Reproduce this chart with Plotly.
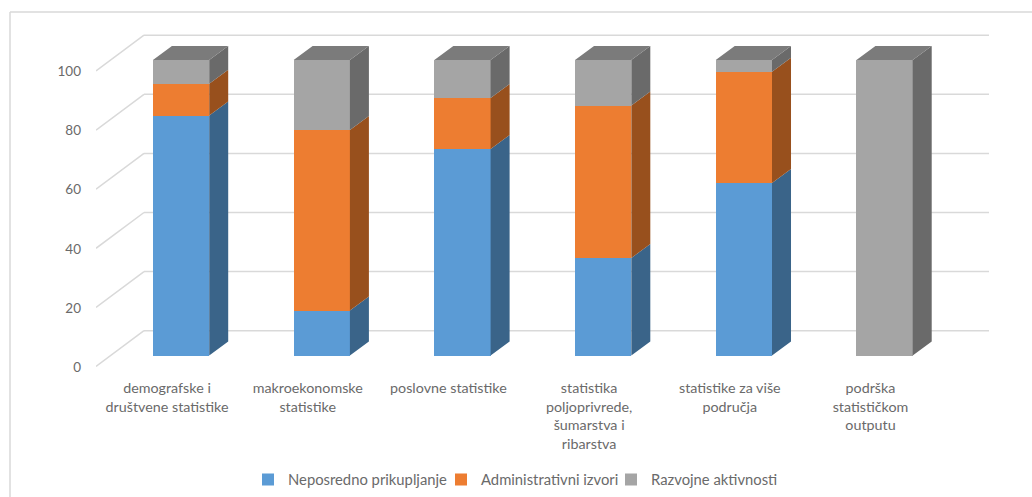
import plotly.graph_objects as go

categories = [
    "demografske i<br>društvene statistike",
    "makroekonomske<br>statistike",
    "poslovne statistike",
    "statistika<br>poljoprivrede,<br>šumarstva i<br>ribarstva",
    "statistike za više<br>područja",
    "podrška<br>statističkom<br>outputu",
]
series_names = ["Neposredno prikupljanje", "Administrativni izvori", "Razvojne aktivnosti"]
neposredno = [81.2, 15.2, 69.9, 33.0, 58.4, 0]
administrativni = [10.8, 61.1, 17.2, 51.6, 37.6, 0]
razvojne = [8.0, 23.7, 12.9, 15.4, 4.0, 100]
y_ticks = [0, 20, 40, 60, 80, 100]

W, H = 1032, 497
PL, PR, PT, PB = 96, 989, 30, 370      # plot area in pixels
FONT = "Lato"
TEXT = "#6a6a6a"
GRID = "#D9D9D9"
front = ["#5B9BD5", "#ED7D31", "#A5A5A5"]
side = ["#3A6489", "#98501D", "#6A6A6A"]
top_col = "#7B7B7B"
legend_ids = ["legend", "legend2", "legend3"]
legend_px = [248, 441, 611]

# pseudo-3D projection, in axis units
X0, Y0 = -0.5046, -4.907
XSCALE = 140.7
YSCALE = 2.955
X_RANGE = [X0, X0 + (PR - PL) / XSCALE]
Y_RANGE = [Y0, Y0 + (PB - PT) / YSCALE]
BAR_W, BAR_OFF = 0.4, -0.1
DX, DY = 19 / XSCALE, 14 / YSCALE
WALL_DX, WALL_FRONT, WALL_BACK = 48 / XSCALE, -3.72, 8.39
LABEL_SHIFT = -3.9

xs = list(range(len(categories)))
fig = go.Figure()
stack = [neposredno, administrativni, razvojne]

bottoms = [0.0] * len(xs)
for name, vals, fc, sc, lid in zip(series_names, stack, front, side, legend_ids):
    fig.add_bar(x=xs, y=vals, name=name, width=BAR_W, offset=BAR_OFF, legend=lid,
                marker=dict(color=fc, line=dict(width=0)))
    px, py = [], []
    for i, (b, v) in enumerate(zip(bottoms, vals)):
        if v > 0:
            r = i + BAR_OFF + BAR_W
            px += [r, r + DX, r + DX, r, r, None]
            py += [b, b + DY, b + v + DY, b + v, b, None]
    fig.add_scatter(x=px, y=py, mode="lines", fill="toself", fillcolor=sc,
                    line=dict(width=0, color=sc), showlegend=False, hoverinfo="skip")
    bottoms = [b + v for b, v in zip(bottoms, vals)]

tx, ty = [], []
for i, t in enumerate(bottoms):
    l, r = i + BAR_OFF, i + BAR_OFF + BAR_W
    tx += [l, l + DX, r + DX, r, l, None]
    ty += [t, t + DY, t + DY, t, t, None]
fig.add_scatter(x=tx, y=ty, mode="lines", fill="toself", fillcolor=top_col,
                line=dict(width=0, color=top_col), showlegend=False, hoverinfo="skip")

shapes = []
for t in y_ticks:
    shapes.append(dict(type="line", layer="below", xref="x", yref="y",
                       x0=X0, y0=t + WALL_FRONT, x1=X0 + WALL_DX, y1=t + WALL_BACK,
                       line=dict(color=GRID, width=1.5)))
    shapes.append(dict(type="line", layer="below", xref="x", yref="y",
                       x0=X0 + WALL_DX, y0=t + WALL_BACK, x1=X_RANGE[1], y1=t + WALL_BACK,
                       line=dict(color=GRID, width=1.5)))

pw, ph = PR - PL, PB - PT
def pxx(p): return (p - PL) / pw
def pxy(p): return (PB - p) / ph
shapes.append(dict(type="line", xref="paper", yref="paper", x0=pxx(10), x1=pxx(W),
                   y0=pxy(12), y1=pxy(12), line=dict(color=GRID, width=1.5)))
shapes.append(dict(type="line", xref="paper", yref="paper", x0=pxx(10), x1=pxx(10),
                   y0=pxy(12), y1=pxy(H), line=dict(color=GRID, width=1.5)))

legends = {
    lid: dict(orientation="h", x=pxx(p), xanchor="left", y=pxy(480), yanchor="middle",
              font=dict(family=FONT, size=14.8, color=TEXT), itemwidth=30,
              bgcolor="rgba(0,0,0,0)")
    for lid, p in zip(legend_ids, legend_px)
}

fig.update_layout(
    width=W, height=H, barmode="stack", bargap=0,
    margin=dict(l=PL, r=W - PR, t=PT, b=H - PB, pad=0, autoexpand=False),
    paper_bgcolor="white", plot_bgcolor="rgba(0,0,0,0)",
    font=dict(family=FONT, size=14.3, color=TEXT),
    shapes=shapes,
    xaxis=dict(range=X_RANGE, tickvals=xs, ticktext=categories, showgrid=False,
               zeroline=False, showline=False, ticks="", ticklabelstandoff=8,
               tickangle=0, automargin=False,
               tickfont=dict(family=FONT, size=14.3, color=TEXT)),
    yaxis=dict(range=Y_RANGE, tickvals=[t + LABEL_SHIFT for t in y_ticks],
               ticktext=[str(t) for t in y_ticks], showgrid=False, zeroline=False,
               showline=False, ticks="", ticklabelstandoff=14, automargin=False,
               tickfont=dict(family=FONT, size=13.5, color=TEXT)),
    showlegend=True,
    **legends,
)
fig.write_html("out.html", config=dict(displayModeBar=False),
               post_script="document.body.style.margin='0';document.body.style.overflow='hidden';")
